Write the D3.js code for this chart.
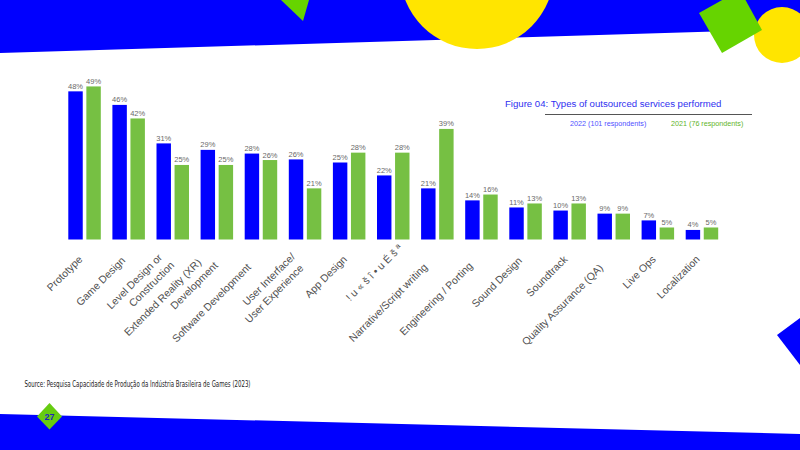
<!DOCTYPE html>
<html>
<head>
<meta charset="utf-8">
<script src="https://cdn.jsdelivr.net/npm/d3@7"></script>
<style>
  body { margin: 0; background: #fff; }
  svg { display: block; font-family: "Liberation Sans", Arial, sans-serif; }
</style>
</head>
<body>
<script>
// categories, "\n" marks a line break in the axis label
const categories = [
  "Prototype", "Game Design", "Level Design or\nConstruction",
  "Extended Reality (XR)\nDevelopment", "Software Development",
  "User Interface/\nUser Experience", "App Design", "! u « š î • u É š ª",
  "Narrative/Script writing", "Engineering / Porting", "Sound Design",
  "Soundtrack", "Quality Assurance (QA)", "Live Ops", "Localization"
];

// printed percentages
const labels2022 = [48, 46, 31, 29, 28, 26, 25, 22, 21, 14, 11, 10, 9, 7, 4];
const labels2021 = [49, 42, 25, 25, 26, 21, 28, 28, 39, 16, 13, 13, 9, 5, 5];

// bar lengths as drawn in the picture (they do not always agree with the printed numbers)
const bars2022 = [48.1, 43.7, 31.2, 29.1, 27.9, 26.0, 25.0, 20.8, 16.6, 12.7, 10.4, 9.4, 8.4, 6.2, 3.1];
const bars2021 = [49.7, 39.3, 24.2, 24.2, 25.8, 16.6, 28.2, 28.2, 35.9, 14.6, 11.7, 11.7, 8.4, 3.9, 3.9];

const seriesNames = ["2022", "2021"];
const legendTexts = ["2022 (101 respondents)", "2021 (76 respondents)"];
const titleText = "Figure 04: Types of outsourced services performed";
const sourceText = "Source: Pesquisa Capacidade de Produção da Indústria Brasileira de Games (2023)";
const pageNumber = "27";

const width = 800, height = 450;
const blue = "#0000ff", green = "#76c043";

const svg = d3.select("body").append("svg")
    .attr("width", width)
    .attr("height", height);

// ---- page decoration ----
const deco = svg.append("g");
deco.append("polygon").attr("points", "0,0 800,0 800,29 0,53").attr("fill", "#0000ff");
deco.append("polygon").attr("points", "281,0 309,0 303,21").attr("fill", "#66d400");
deco.append("circle").attr("cx", 477).attr("cy", -28).attr("r", 77).attr("fill", "#ffe500");
deco.append("circle").attr("cx", 782).attr("cy", 35).attr("r", 28).attr("fill", "#ffe500");
deco.append("polygon").attr("points", "699,13 740,-10 762,30 722,53").attr("fill", "#66d400");
deco.append("polygon").attr("points", "777,335 800,318 800,365").attr("fill", "#0000ff");
deco.append("polygon").attr("points", "0,414 800,434 800,450 0,450").attr("fill", "#0000ff");
deco.append("polygon").attr("points", "49.5,403 62,416.5 49.5,429.5 37,416.5").attr("fill", "#66cc11");
deco.append("text")
    .attr("x", 49.5).attr("y", 419.5)
    .attr("text-anchor", "middle")
    .attr("font-size", 9).attr("font-weight", "bold")
    .attr("fill", "#1f1fc0")
    .text(pageNumber);

// ---- chart ----
const baseline = 239.5;

const x0 = d3.scaleBand()
    .domain(categories)
    .range([56.7, 729.8])
    .padding(0.263);

const x1 = d3.scaleBand()
    .domain(seriesNames)
    .range([0, x0.bandwidth()])
    .paddingInner(0.2);

const y = d3.scaleLinear()
    .domain([0, 50])
    .range([baseline, baseline - 50 * 3.08]);

const rows = categories.map((c, i) => ({
  cat: c,
  values: [
    {key: "2022", v: bars2022[i], label: labels2022[i], color: blue},
    {key: "2021", v: bars2021[i], label: labels2021[i], color: green}
  ]
}));

const groups = svg.append("g").selectAll("g")
    .data(rows)
    .enter().append("g")
    .attr("transform", d => `translate(${x0(d.cat)},0)`);

groups.selectAll("rect")
    .data(d => d.values)
    .enter().append("rect")
    .attr("x", d => x1(d.key))
    .attr("y", d => y(d.v))
    .attr("width", x1.bandwidth())
    .attr("height", d => baseline - y(d.v))
    .attr("fill", d => d.color);

groups.selectAll("text")
    .data(d => d.values)
    .enter().append("text")
    .attr("x", d => x1(d.key) + x1.bandwidth() / 2)
    .attr("y", d => y(d.v) - 2.5)
    .attr("text-anchor", "middle")
    .attr("font-size", 7.5)
    .attr("fill", "#6a6a6a")
    .text(d => d.label + "%");

// category labels, rotated -45deg; long lines slide back a little
const lineH = 14;
const slide = len => Math.max(1.5, 0.16 * len - 7.6) * Math.SQRT2;
const catLabels = svg.append("g").selectAll("g")
    .data(categories)
    .enter().append("g")
    .attr("transform", d => `translate(${x0(d) + x0.bandwidth() / 2},258.5) rotate(-45)`);

catLabels.each(function(d, i) {
  const lines = d.split("\n");
  const t = d3.select(this).append("text")
      .attr("text-anchor", "end")
      .attr("font-size", 10.5)
      .attr("fill", "#505050");
  lines.forEach((ln, k) => {
    const sp = t.append("tspan").text(ln);
    const len = sp.node().getComputedTextLength();
    if (lines.length > 1) {
      sp.attr("x", -3.9 - (slide(len) - slide(60)))
        .attr("y", 6.7 + (k - (lines.length - 1)) * lineH);
    } else {
      // the mis-encoded label (index 7) sits further forward in the original
      sp.attr("x", i === 7 ? 20 - slide(len) : -slide(len)).attr("y", 0);
    }
  });
});

// ---- title and legend ----
svg.append("text")
    .attr("x", 505).attr("y", 107.3)
    .attr("font-size", 9.6)
    .attr("fill", "#3030f0")
    .text(titleText);

svg.append("line")
    .attr("x1", 545).attr("x2", 752)
    .attr("y1", 114.5).attr("y2", 114.5)
    .attr("stroke", "#555").attr("stroke-width", 1);

const legendX = [570, 671];
const legendColors = ["#5050ff", "#62b42a"];
svg.append("g").selectAll("text")
    .data(legendTexts)
    .enter().append("text")
    .attr("x", (d, i) => legendX[i])
    .attr("y", 125.5)
    .attr("font-size", 7.2)
    .attr("fill", (d, i) => legendColors[i])
    .text(d => d);

// ---- source ----
svg.append("text")
    .attr("x", 24.5).attr("y", 386.5)
    .attr("font-family", "'DejaVu Sans Condensed', 'DejaVu Sans', sans-serif")
    .attr("font-size", 8.3)
    .attr("fill", "#222")
    .attr("textLength", 226)
    .attr("lengthAdjust", "spacingAndGlyphs")
    .text(sourceText);
</script>
</body>
</html>
